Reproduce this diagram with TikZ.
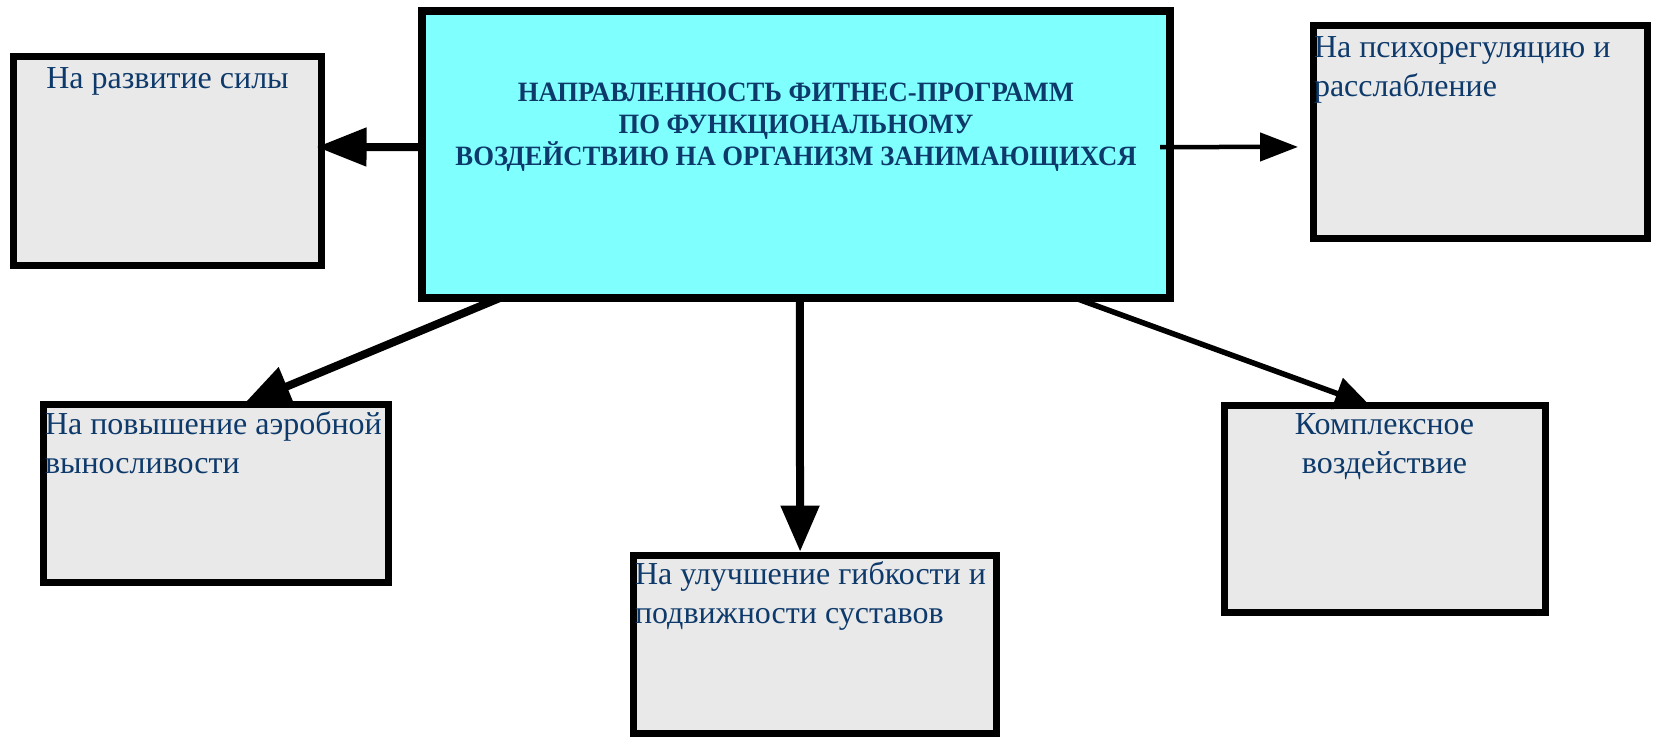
\documentclass[tikz,border=0pt]{standalone}
\usepackage{fontspec}
\setmainfont{Liberation Serif}
\newfontfamily\titlefont[FakeStretch=0.953]{Liberation Serif Bold}
\usetikzlibrary{arrows.meta,calc}
\definecolor{navy}{RGB}{14,58,107}
\definecolor{cyanfill}{RGB}{128,255,255}
\definecolor{greyfill}{RGB}{233,233,233}
\begin{document}
\begin{tikzpicture}[x=1pt,y=-1pt,
  mainbox/.style={draw=black,line width=8pt,fill=cyanfill,inner sep=0pt,outer sep=0pt},
  subbox/.style={draw=black,line width=7pt,fill=greyfill,inner sep=0pt,outer sep=0pt},
  subtext/.style={text=navy,inner sep=0pt,outer sep=0pt,font=\fontsize{32}{39}\selectfont},
  titletext/.style={text=navy,inner sep=0pt,outer sep=0pt,align=center,font=\fontsize{28}{32}\titlefont},
  thickconn/.style={draw=black,line width=8pt},
  thinconn/.style={draw=black,line width=5.5pt}]
\useasboundingbox (0,0) rectangle (1653,737);
% boxes
\node[mainbox,minimum width=748pt,minimum height=287pt] (c) at (796,154.5) {};
\node[subbox,minimum width=308pt,minimum height=209pt] (sila) at (167.5,161) {};
\node[subbox,minimum width=334pt,minimum height=213pt] (psy) at (1480.5,132) {};
\node[subbox,minimum width=344.3pt,minimum height=178pt] (aer) at (215.85,493.5) {};
\node[subbox,minimum width=363pt,minimum height=178pt] (gib) at (815,644.5) {};
\node[subbox,minimum width=320.5pt,minimum height=206.5pt] (kom) at (1384.75,508.75) {};
% texts (base anchor = baseline of the last line)
\node[titletext,anchor=base] (ttl) at (796,165) {НАПРАВЛЕННОСТЬ ФИТНЕС-ПРОГРАММ\\ПО ФУНКЦИОНАЛЬНОМУ\\ВОЗДЕЙСТВИЮ НА ОРГАНИЗМ ЗАНИМАЮЩИХСЯ};
\node[subtext,anchor=base] (silat) at (167.5,88) {На развитие силы};
\node[subtext,anchor=base west,align=left] (psyt) at (1314,96.7) {На психорегуляцию и\\расслабление};
\node[subtext,anchor=base west,align=left] (aert) at (45,473) {На повышение аэробной\\выносливости};
\node[subtext,anchor=base west,align=left] (gibt) at (635,623) {На улучшение гибкости и\\подвижности суставов};
\node[subtext,anchor=base,align=center] (komt) at (1384.5,473) {Комплексное\\воздействие};
% connectors
\draw[thickconn,-{Triangle[length=50pt,width=37pt]},shorten >=-5pt]
  ($(c.north west)!0.474!(c.south west)$) -- ($(sila.north east)!0.433!(sila.south east)$);
\draw[draw=black,line width=4.5pt,-{Triangle[length=38pt,width=28pt]},shorten >=15.5pt,shorten <=-10pt]
  ($(c.north east)!0.474!(c.south east)$) -- ($(psy.north west)!0.570!(psy.south west)$);
\draw[thickconn,-{Triangle[length=47pt,width=40pt]}]
  ($(c.south west)!0.104!(c.south east)$) -- ($(aer.north west)!0.58!(aer.north east)$);
\draw[thickconn,-{Triangle[length=46pt,width=37pt]},shorten >=3.8pt]
  ($(c.south west)!0.505!(c.south east)$) -- ($(gib.north west)!0.459!(gib.north east)$);
\draw[thinconn,-{Triangle[length=35pt,width=32pt]}]
  ($(c.south west)!0.873!(c.south east)$) -- ($(kom.north west)!0.454!(kom.north east)$);
\end{tikzpicture}
\end{document}
